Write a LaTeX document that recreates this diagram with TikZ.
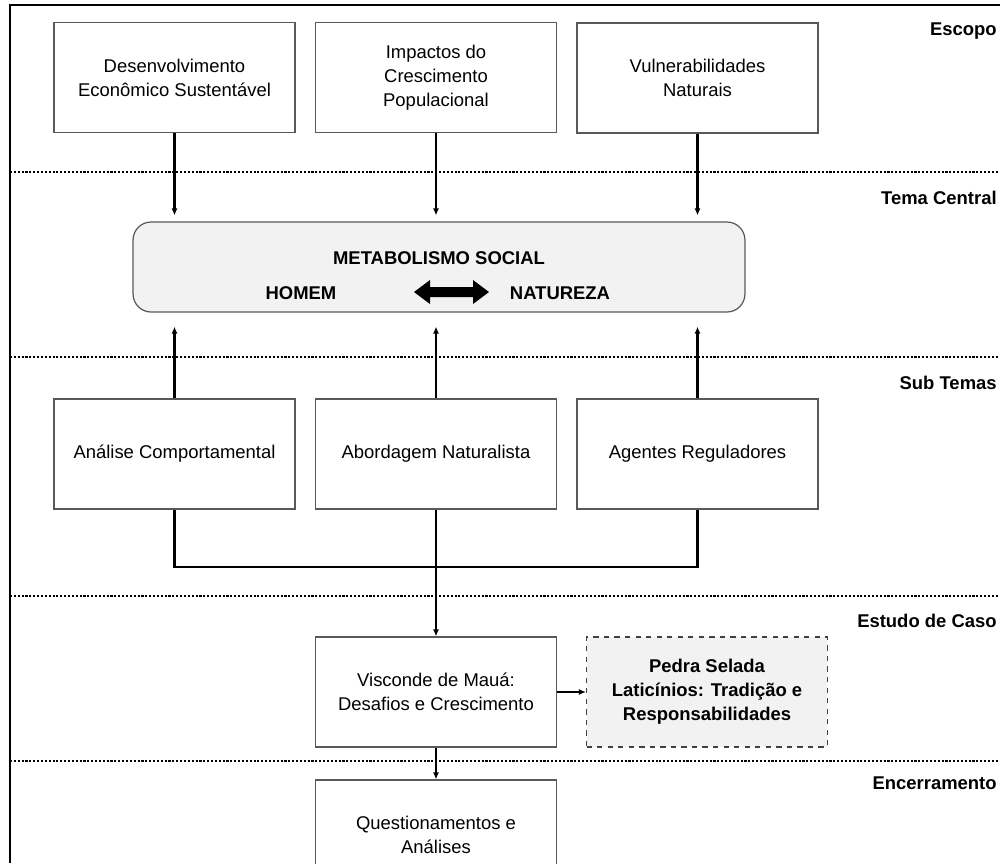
\documentclass[tikz,border=0pt]{standalone}
\usepackage{fontspec}
\setmainfont{Liberation Sans}
\usetikzlibrary{arrows.meta}
\definecolor{boxgray}{HTML}{F2F2F2}
\begin{document}
\begin{tikzpicture}[x=0.02cm,y=-0.02cm,
        every node/.style={font=\fontsize{10.5}{13.6}\selectfont,align=center},
        box/.style={draw=black!65,line width=0.7pt,fill=white,minimum width=4.82cm,minimum height=2.2cm,inner sep=2pt},
        lbl/.style={anchor=east,inner sep=0pt,font=\fontsize{10.5}{13.6}\selectfont\bfseries},
        sep/.style={densely dotted,line width=1.2pt},
        arr/.style={-{Latex[length=4pt,width=3.5pt]},line width=1.2pt}]
        \useasboundingbox (0,0) rectangle (1000,863);

        % frame and separators
        \draw[line width=1.3pt] (10,863) -- (10,5) -- (1000,5);
        \foreach \y in {172,357,596,761}
            \draw[sep] (10,\y) -- (1000,\y);

        \node[lbl] at (997,31) (escopo) {Escopo};
        \node[lbl] at (997,198) (tema) {Tema Central};
        \node[lbl] at (997,383) (subtemas) {Sub Temas};
        \node[lbl] at (997,621) (estudo) {Estudo de Caso};
        \node[lbl] at (997,783) (encerra) {Encerramento};

        % escopo
        \node[box] at (174.5,77.5) (topA) {Desenvolvimento\\Econômico Sustentável};
        \node[box] at (436,77.5) (topB) {Impactos do\\Crescimento\\Populacional};
        \node[box] at (697.5,78) (topC) {Vulnerabilidades\\Naturais};

        % tema central
        \node[draw=black!65,line width=0.7pt,fill=boxgray,rounded corners=0.36cm,
              minimum width=12.24cm,minimum height=1.8cm] at (439,267) (meta) {};
        \node[font=\fontsize{10.5}{13.6}\selectfont\bfseries] at (439,258) (title) {METABOLISMO SOCIAL};
        \node[font=\fontsize{10.5}{13.6}\selectfont\bfseries] at (301,293) (homem) {HOMEM};
        \node[font=\fontsize{10.5}{13.6}\selectfont\bfseries] at (560,293) (natureza) {NATUREZA};
        \fill (414,292) -- (430,280) -- (430,287) -- (473,287) -- (473,280) -- (489,292)
              -- (473,304) -- (473,297) -- (430,297) -- (430,304) -- cycle;

        % sub temas
        \node[box] at (174.5,454) (subA) {Análise Comportamental};
        \node[box] at (436,454) (subB) {Abordagem Naturalista};
        \node[box] at (697.5,454) (subC) {Agentes Reguladores};

        % estudo de caso
        \node[box] at (436,692) (caso) {Visconde de Mauá:\\Desafios e Crescimento};
        \node[box,dashed,draw=black!75,fill=boxgray,font=\fontsize{10.5}{13.6}\selectfont\bfseries] at (707,692) (pedra) {Pedra Selada\\Laticínios: Tradição e\\Responsabilidades};

        % encerramento
        \node[box] at (436,835) (fim) {Questionamentos e\\Análises};

        \foreach \n in {topA,topB,topC}
            \draw[arr,shorten >=0.12cm] (\n.south) -- (\n.south |- meta.north);
        \foreach \n in {subA,subB,subC}
            \draw[arr,shorten >=0.28cm] (\n.north) -- (\n.north |- meta.south);

        \coordinate (joint) at (436,567);
        \draw[line width=1.3pt] (subA.south) |- (joint) -| (subC.south);
        \draw[arr] (subB.south) -- (caso.north);
        \draw[arr,line width=1.5pt] (caso.east) -- (pedra.west);
        \draw[arr] (caso.south) -- (fim.north);
    \end{tikzpicture}
\end{document}
